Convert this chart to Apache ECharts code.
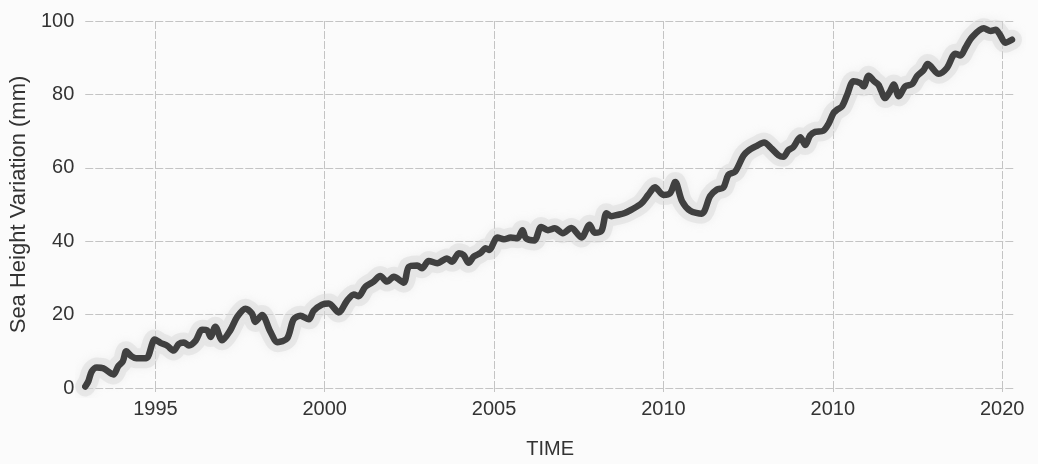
<!DOCTYPE html>
<html>
<head>
<meta charset="utf-8">
<title>Sea Height Variation</title>
<script src="https://cdn.jsdelivr.net/npm/echarts@6/dist/echarts.min.js"></script>
<style>
  html, body { margin: 0; padding: 0; background: #fbfbfb; }
  #chart { width: 1038px; height: 464px; }
</style>
</head>
<body>
<div id="chart"></div>
<script>
// Satellite sea height variation since 1993 (mm)
const years = [
  1992.93, 1993.02, 1993.12, 1993.27, 1993.46, 1993.76, 1993.90, 1994.04, 1994.14, 1994.29,
  1994.44, 1994.73, 1994.98, 1995.15, 1995.35, 1995.54, 1995.69, 1995.84, 1995.99, 1996.19,
  1996.38, 1996.53, 1996.63, 1996.77, 1996.97, 1997.21, 1997.41, 1997.66, 1997.85, 1997.95,
  1998.15, 1998.39, 1998.61, 1998.89, 1999.08, 1999.28, 1999.53, 1999.67, 1999.92, 2000.12,
  2000.41, 2000.66, 2000.86, 2001.00, 2001.20, 2001.44, 2001.64, 2001.84, 2002.04, 2002.33,
  2002.48, 2002.73, 2002.87, 2003.07, 2003.32, 2003.61, 2003.76, 2003.96, 2004.10, 2004.25,
  2004.40, 2004.60, 2004.75, 2004.85, 2005.10, 2005.29, 2005.49, 2005.69, 2005.84, 2005.94,
  2006.19, 2006.39, 2006.59, 2006.79, 2007.03, 2007.28, 2007.58, 2007.82, 2007.97, 2008.17,
  2008.32, 2008.46, 2008.66, 2008.86, 2009.06, 2009.35, 2009.55, 2009.75, 2010.00, 2010.20,
  2010.35, 2010.55, 2010.79, 2011.13, 2011.38, 2011.58, 2011.77, 2011.92, 2012.12, 2012.36,
  2012.51, 2012.76, 2012.97, 2013.20, 2013.40, 2013.54, 2013.69, 2013.84, 2014.04, 2014.19,
  2014.33, 2014.48, 2014.72, 2014.87, 2015.02, 2015.12, 2015.27, 2015.42, 2015.61, 2015.81,
  2015.91, 2016.06, 2016.21, 2016.35, 2016.55, 2016.70, 2016.80, 2016.95, 2017.14, 2017.34,
  2017.49, 2017.68, 2017.80, 2018.13, 2018.37, 2018.62, 2018.77, 2018.92, 2019.11, 2019.46,
  2019.66, 2019.81, 2019.94, 2020.09, 2020.29
];

const seaHeight = [
  0.4, 1.8, 4.5, 5.6, 5.4, 3.7, 5.9, 7.3, 10.0, 8.7,
  8.1, 8.1, 13.2, 12.3, 11.5, 10.2, 12.0, 12.4, 11.6, 12.9,
  15.9, 15.7, 13.9, 16.7, 13.0, 15.7, 19.3, 21.6, 20.3, 18.0,
  19.9, 15.4, 12.5, 13.5, 18.7, 19.7, 18.7, 21.0, 22.7, 23.0,
  20.6, 23.8, 25.5, 25.0, 27.6, 29.0, 30.5, 29.0, 30.3, 28.7,
  33.0, 33.4, 32.6, 34.6, 34.0, 35.3, 34.4, 36.7, 36.2, 34.1,
  35.8, 36.8, 38.1, 37.6, 41.0, 40.5, 41.0, 40.8, 43.0, 40.8,
  40.2, 43.9, 43.0, 43.5, 42.2, 43.6, 41.0, 44.5, 42.3, 42.8,
  47.6, 46.8, 47.2, 47.7, 48.6, 50.3, 52.6, 54.7, 52.6, 53.1,
  56.1, 50.9, 48.3, 47.5, 52.3, 54.1, 54.6, 58.1, 59.0, 63.3,
  64.7, 66.0, 66.9, 65.2, 63.4, 63.0, 64.8, 65.7, 68.3, 66.2,
  68.8, 69.8, 70.1, 71.9, 74.9, 75.8, 76.7, 79.8, 83.6, 83.1,
  82.2, 85.1, 83.7, 82.6, 79.0, 81.0, 82.7, 79.5, 82.2, 82.8,
  85.0, 86.6, 88.3, 85.6, 87.2, 91.1, 90.6, 92.8, 95.6, 98.0,
  97.3, 97.6, 96.2, 94.1, 94.9
];

// Year ticks and the labels printed under them
const xTickValues = [1995, 2000, 2005, 2010, 2015, 2020];
const xTickLabels = ['1995', '2000', '2005', '2010', '2010', '2020'];

const yTickValues = [0, 20, 40, 60, 80, 100];

const series = years.map((yr, i) => [yr, seaHeight[i]]);

const gridColor = '#c4c4c4';
const textColor = '#333333';
const fontFamily = '"Liberation Sans", Arial, Helvetica, sans-serif';

const chart = echarts.init(document.getElementById('chart'), null, { renderer: 'canvas' });

chart.setOption({
  backgroundColor: '#fbfbfb',
  animation: false,
  grid: { left: 85, right: 23, top: 21, bottom: 73, containLabel: false },
  xAxis: {
    type: 'value',
    min: 1992.93,
    max: 2020.38,
    name: 'TIME',
    nameLocation: 'middle',
    nameGap: 51,
    nameTextStyle: { color: textColor, fontSize: 20, fontFamily: fontFamily },
    axisLine: { show: false },
    axisTick: {
      show: true,
      length: 4,
      customValues: xTickValues,
      lineStyle: { color: gridColor, width: 1 }
    },
    axisLabel: {
      customValues: xTickValues,
      margin: 11,
      color: textColor,
      fontSize: 20,
      fontFamily: fontFamily,
      formatter: function (v) {
        const idx = xTickValues.indexOf(Math.round(v));
        return idx >= 0 ? xTickLabels[idx] : '';
      }
    },
    splitLine: {
      show: true,
      lineStyle: { color: gridColor, width: 1, type: [8, 2] }
    }
  },
  yAxis: {
    type: 'value',
    min: yTickValues[0],
    max: yTickValues[yTickValues.length - 1],
    interval: 20,
    name: 'Sea Height Variation (mm)',
    nameLocation: 'middle',
    nameGap: 52,
    nameRotate: 90,
    nameTextStyle: { color: textColor, fontSize: 22, fontFamily: fontFamily },
    axisLine: { show: false },
    axisTick: { show: false },
    axisLabel: {
      margin: 11,
      color: textColor,
      fontSize: 20,
      fontFamily: fontFamily
    },
    splitLine: {
      show: true,
      lineStyle: { color: gridColor, width: 1, type: [8, 2] }
    }
  },
  series: [
    {
      // faint spread of the individual measurements around the trend
      name: 'spread',
      type: 'line',
      data: series,
      showSymbol: false,
      smooth: 0.3,
      silent: true,
      z: 1,
      lineStyle: {
        color: 'rgba(215,215,215,0.45)',
        width: 20,
        cap: 'round',
        join: 'round',
        shadowBlur: 10,
        shadowColor: 'rgba(205,205,205,0.5)'
      }
    },
    {
      name: 'Sea Height Variation',
      type: 'line',
      data: series,
      showSymbol: false,
      smooth: 0.3,
      z: 2,
      lineStyle: {
        color: '#404040',
        width: 6.5,
        cap: 'round',
        join: 'round'
      }
    }
  ]
});
</script>
</body>
</html>
